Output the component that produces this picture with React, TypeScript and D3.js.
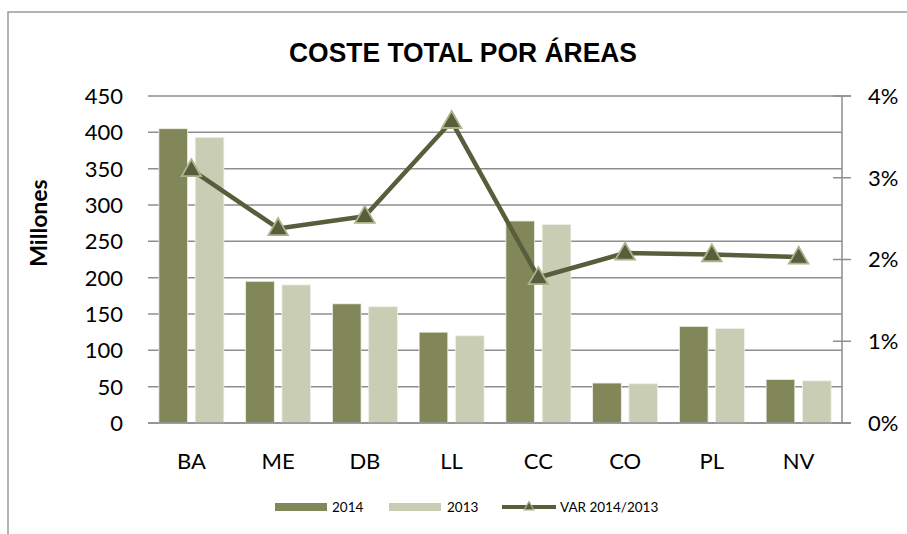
import React from "react";
import * as d3 from "d3";

const categories = ["BA", "ME", "DB", "LL", "CC", "CO", "PL", "NV"];
const seriesNames = ["2014", "2013"];
const values2014 = [405, 195, 164, 125, 278, 55, 133, 60];
const values2013 = [393, 190, 160, 120, 273, 54, 130, 58];
const variation = [3.1, 2.38, 2.53, 3.69, 1.78, 2.08, 2.06, 2.03];
const leftTicks = [0, 50, 100, 150, 200, 250, 300, 350, 400, 450];
const rightTicks = [0, 1, 2, 3, 4];

const W = 907;
const H = 534;
const plotL = 148;
const plotR = 842;
const plotT = 96;
const plotB = 423;

const C2014 = "#82875a";
const C2013 = "#c9cdb4";
const CLINE = "#585e3b";
const CMARK = "#aab48a";
const GRID = "#8e8e8e";
const FONT = "Lato, 'Open Sans', sans-serif";

export default function App() {
  const x0 = d3.scaleBand<string>().domain(categories).range([plotL, plotR]);
  const x1 = d3
    .scaleBand<string>()
    .domain(seriesNames)
    .range([0, x0.bandwidth()])
    .paddingInner(0.21)
    .paddingOuter(0.3);
  const yL = d3.scaleLinear().domain([0, 450]).range([plotB, plotT]);
  const yR = d3.scaleLinear().domain([0, 4]).range([plotB, plotT]);
  const seriesData = [values2014, values2013];
  const colors = [C2014, C2013];

  const linePts: [number, number][] = categories.map((c, i) => [
    (x0(c) as number) + x0.bandwidth() / 2,
    yR(variation[i]),
  ]);
  const lineGen = d3.line();
  const tri = d3.symbol().type(d3.symbolTriangle).size(165)();
  const triSmall = d3.symbol().type(d3.symbolTriangle).size(40)();

  return (
    <svg
      width={W}
      height={H}
      style={{ position: "absolute", left: 0, top: 0, background: "#fff" }}
    >
      <rect x={8} y={12} width={1000} height={1000} fill="#fff" stroke="#9a9a9a" strokeWidth={1.5} />
      <text
        x={463}
        y={62}
        textAnchor="middle"
        fontFamily="'Liberation Sans Narrow', 'Liberation Sans', Arial, sans-serif"
        fontWeight="bold"
        fontSize={27}
        textLength={348}
        lengthAdjust="spacingAndGlyphs"
        fill="#000"
      >
        COSTE TOTAL POR ÁREAS
      </text>

      {/* gridlines */}
      {leftTicks.map((t) => (
        <line
          key={"g" + t}
          x1={plotL}
          x2={t === 0 || t === 450 ? 851 : plotR}
          y1={yL(t)}
          y2={yL(t)}
          stroke={GRID}
          strokeWidth={1.5}
        />
      ))}
      {/* right axis */}
      <line x1={plotR} x2={plotR} y1={plotT} y2={plotB} stroke={GRID} strokeWidth={1.5} />
      {rightTicks.map((t) => (
        <line key={"rt" + t} x1={833} x2={851} y1={yR(t)} y2={yR(t)} stroke={GRID} strokeWidth={1.5} />
      ))}

      {/* bars */}
      {categories.map((c, i) => (
        <g key={c} transform={`translate(${x0(c)},0)`}>
          {seriesNames.map((s, k) => (
            <rect
              key={s}
              x={x1(s)}
              y={yL(seriesData[k][i])}
              width={x1.bandwidth()}
              height={plotB - yL(seriesData[k][i])}
              fill={colors[k]}
              stroke="#eef0e6"
              strokeWidth={0.8}
            />
          ))}
        </g>
      ))}
      {/* baseline redraw */}
      <line x1={plotL} x2={851} y1={plotB} y2={plotB} stroke={GRID} strokeWidth={1.5} />

      {/* line series */}
      <path d={lineGen(linePts) || ""} fill="none" stroke={CLINE} strokeWidth={4.5} strokeLinejoin="round" />
      {linePts.map((p, i) => (
        <path
          key={"m" + i}
          d={tri || ""}
          transform={`translate(${p[0]},${p[1] + 1})`}
          fill={CLINE}
          stroke={CMARK}
          strokeWidth={1.8}
        />
      ))}

      {/* left axis labels */}
      {leftTicks.map((t) => (
        <text
          key={"l" + t}
          x={123}
          y={yL(t)}
          dy="0.36em"
          textAnchor="end"
          fontFamily={FONT}
          fontSize={22}
          fill="#000"
        >
          {t}
        </text>
      ))}
      {/* right axis labels */}
      {rightTicks.map((t) => (
        <text
          key={"r" + t}
          x={868}
          y={yR(t)}
          dy="0.36em"
          textAnchor="start"
          fontFamily={FONT}
          fontSize={22}
          fill="#000"
        >
          {t + "%"}
        </text>
      ))}
      {/* category labels */}
      {categories.map((c) => (
        <text
          key={"c" + c}
          x={(x0(c) as number) + x0.bandwidth() / 2}
          y={469}
          textAnchor="middle"
          fontFamily={FONT}
          fontSize={22}
          fill="#000"
        >
          {c}
        </text>
      ))}
      <text
        transform="translate(47,223) rotate(-90)"
        textAnchor="middle"
        fontFamily={FONT}
        fontWeight="bold"
        fontSize={23}
        fill="#000"
      >
        Millones
      </text>

      {/* legend */}
      <rect x={275} y={503} width={52} height={8} fill={C2014} />
      <text x={332} y={512} fontFamily={FONT} fontSize={13.5} fill="#000">
        2014
      </text>
      <rect x={389} y={503} width={52} height={8} fill={C2013} />
      <text x={447} y={512} fontFamily={FONT} fontSize={13.5} fill="#000">
        2013
      </text>
      <line x1={502} x2={556} y1={507} y2={507} stroke={CLINE} strokeWidth={4} />
      <path d={triSmall || ""} transform="translate(529,507)" fill={CLINE} stroke={CMARK} strokeWidth={1.2} />
      <text x={560} y={512} fontFamily={FONT} fontSize={13.5} fill="#000">
        VAR 2014/2013
      </text>
    </svg>
  );
}
